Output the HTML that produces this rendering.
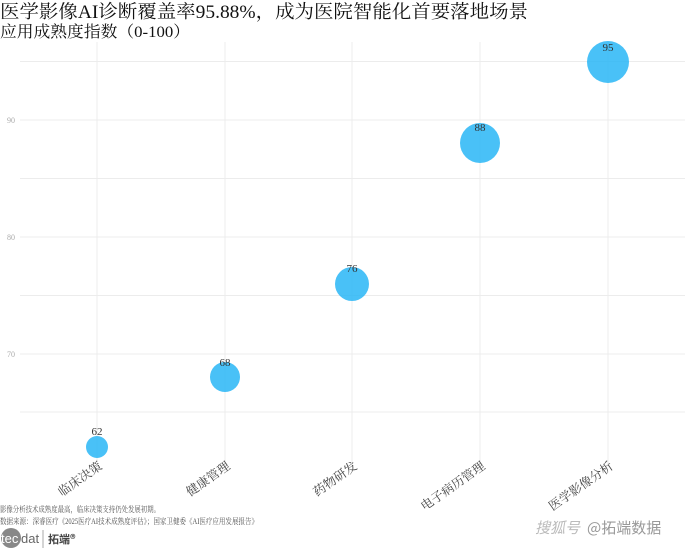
<!DOCTYPE html>
<html><head><meta charset="utf-8"><style>
body{margin:0;background:#fff;width:690px;height:552px;overflow:hidden}
</style></head><body>
<svg width="690" height="552" xmlns="http://www.w3.org/2000/svg" style="font-family:'Liberation Serif','Noto Serif CJK SC',serif">
<text x="0" y="18" font-size="18.5" fill="#111" textLength="528" lengthAdjust="spacingAndGlyphs">医学影像AI诊断覆盖率95.88%，成为医院智能化首要落地场景</text>
<text x="0" y="37" font-size="16" fill="#111" textLength="190" lengthAdjust="spacingAndGlyphs">应用成熟度指数（0-100）</text>
<g stroke="#ececec" stroke-width="1">
<line x1="20" x2="685" y1="61.5" y2="61.5"/>
<line x1="20" x2="685" y1="120" y2="120"/>
<line x1="20" x2="685" y1="178.5" y2="178.5"/>
<line x1="20" x2="685" y1="237" y2="237"/>
<line x1="20" x2="685" y1="295.5" y2="295.5"/>
<line x1="20" x2="685" y1="354" y2="354"/>
<line x1="20" x2="685" y1="412" y2="412"/>
<line x1="97" x2="97" y1="42" y2="466"/>
<line x1="225" x2="225" y1="42" y2="466"/>
<line x1="352" x2="352" y1="42" y2="466"/>
<line x1="480" x2="480" y1="42" y2="466"/>
<line x1="608" x2="608" y1="42" y2="466"/>
</g>
<g font-size="8" fill="#aaa" text-anchor="end">
<text x="15" y="123">90</text><text x="15" y="240">80</text><text x="15" y="357">70</text>
</g>
<g fill="#29b6f6" fill-opacity="0.85">
<circle cx="97" cy="447" r="11"/>
<circle cx="225" cy="377" r="15"/>
<circle cx="352" cy="284" r="17"/>
<circle cx="480" cy="143" r="20"/>
<circle cx="608" cy="62" r="21"/>
</g>
<g font-size="11" fill="#333" text-anchor="middle">
<text x="97" y="435">62</text><text x="225" y="366">68</text><text x="352" y="272">76</text><text x="480" y="131">88</text><text x="608" y="51">95</text>
</g>
<g font-size="12.5" fill="#444" text-anchor="end">
<text transform="translate(103,468) rotate(-35)">临床决策</text>
<text transform="translate(231,468) rotate(-35)">健康管理</text>
<text transform="translate(358,468) rotate(-35)">药物研发</text>
<text transform="translate(486,468) rotate(-35)">电子病历管理</text>
<text transform="translate(614,468) rotate(-35)">医学影像分析</text>
</g>
<text x="0" y="512" font-size="8" fill="#555" textLength="160" lengthAdjust="spacingAndGlyphs">影像分析技术成熟度最高，临床决策支持仍处发展初期。</text>
<text x="0" y="524" font-size="8" fill="#555" textLength="258" lengthAdjust="spacingAndGlyphs">数据来源：深睿医疗《2025医疗AI技术成熟度评估》；国家卫健委《AI医疗应用发展报告》</text>
<circle cx="11" cy="538" r="10" fill="#888"/>
<text x="1" y="543" font-size="13" fill="#fff" font-family="Liberation Sans,sans-serif">tec</text>
<text x="21" y="543" font-size="13" fill="#666" font-family="Liberation Sans,sans-serif">dat</text>
<line x1="43" x2="43" y1="530" y2="548" stroke="#aaa"/>
<text x="48" y="543" font-size="11" fill="#444" font-weight="bold" font-family="'Noto Sans CJK SC',sans-serif">拓端®</text>
<text x="535" y="533" font-size="15" fill="#bbb" font-style="italic" font-family="'Noto Sans CJK SC',sans-serif">搜狐号</text>
<text x="587" y="533" font-size="15" fill="#999" font-family="'Noto Sans CJK SC',sans-serif">@拓端数据</text>
</svg>
</body></html>
